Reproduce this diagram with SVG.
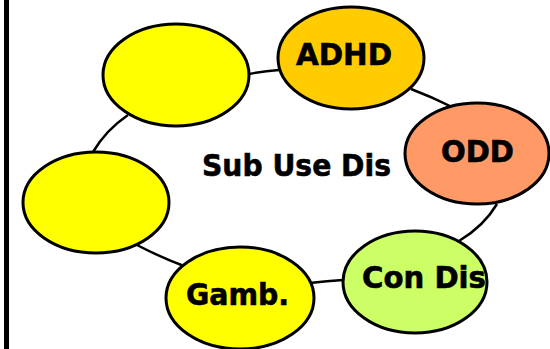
<svg xmlns="http://www.w3.org/2000/svg" width="550" height="349" viewBox="0 0 550 349">
<style>
.n{stroke:#000;stroke-width:3}
.c{fill:none;stroke:#000;stroke-width:2.5}
.t{font-family:"DejaVu Sans",Verdana,sans-serif;font-weight:bold;font-size:30px;fill:#000;stroke:#000;stroke-width:0.6}
</style>
<rect width="550" height="349" fill="#fff"/>
<rect x="4" y="0" width="5" height="349" fill="#000"/>
<g id="connectors">
<path class="c" d="M249,74 Q264,71 279,70"/>
<path class="c" d="M411,89 Q432,97 452,107"/>
<path class="c" d="M497,204 Q484,226 459,241"/>
<path class="c" d="M343,280 Q327,281 310,283"/>
<path class="c" d="M184,266 Q160,257 137,245"/>
<path class="c" d="M93,152 Q106,130 128,115"/>
</g>
<g id="center"><text class="t" x="202" y="175.5" textLength="189" lengthAdjust="spacingAndGlyphs">Sub Use Dis</text></g>
<g id="blank1"><ellipse class="n" cx="176" cy="75" rx="73" ry="51" fill="#ffff00"/></g>
<g id="adhd"><ellipse class="n" cx="351" cy="58" rx="73" ry="51" fill="#ffcc00"/><text class="t" x="296" y="65" textLength="96" lengthAdjust="spacingAndGlyphs">ADHD</text></g>
<g id="odd"><ellipse class="n" cx="477" cy="153.5" rx="72" ry="50.5" fill="#ff9966"/><text class="t" x="441" y="161.5" textLength="73" lengthAdjust="spacingAndGlyphs">ODD</text></g>
<g id="condis"><ellipse class="n" cx="415" cy="282" rx="72" ry="51" fill="#ccff66"/><text class="t" x="362" y="287.5" textLength="124" lengthAdjust="spacingAndGlyphs">Con Dis</text></g>
<g id="gamb"><ellipse class="n" cx="240" cy="298" rx="74" ry="51" fill="#ffff00"/><text class="t" x="186" y="304.5" textLength="103" lengthAdjust="spacingAndGlyphs">Gamb.</text></g>
<g id="blank2"><ellipse class="n" cx="96" cy="202.5" rx="73" ry="50.5" fill="#ffff00"/></g>
</svg>
